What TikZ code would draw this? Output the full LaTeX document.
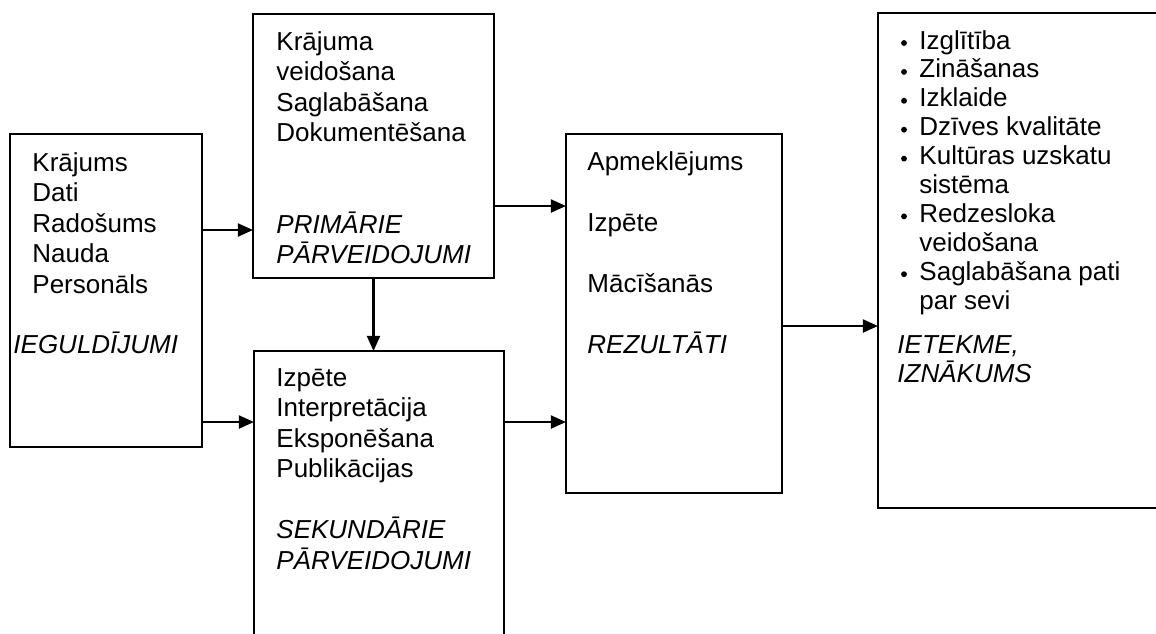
\documentclass[tikz,border=0pt]{standalone}
\usepackage{fontspec}
\setmainfont{Liberation Sans}
\usetikzlibrary{arrows.meta}
\newcommand{\pxu}{0.4615pt}

\begin{document}
\begin{tikzpicture}[x=0.4615pt, y=-0.4615pt,
    box/.style={draw, line width=0.7pt, inner sep=0pt, outer sep=0pt},
    txt/.style={anchor=base west, inner sep=0pt, font=\fontsize{12}{14}\selectfont},
    title/.style={txt, font=\fontsize{12}{14}\selectfont\itshape},
    dot/.style={circle, fill, inner sep=0pt, minimum size=2.7pt},
    arr/.style={line width=1.05pt, -{Triangle[length=7pt, width=6pt]}}]

    % page size, the last two boxes run over the edge
    \useasboundingbox (0,0) rectangle (1156,633);
    \clip (0,0) rectangle (1156,633);

    % boxes
    \node[box, minimum width=192*\pxu, minimum height=313*\pxu] (ieg) at (106,290.5) {};
    \node[box, minimum width=241*\pxu, minimum height=264*\pxu] (prim) at (373.5,146) {};
    \node[box, minimum width=250*\pxu, minimum height=349*\pxu] (sek) at (379,525.5) {};
    \node[box, minimum width=216*\pxu, minimum height=359*\pxu] (rez) at (674,313.5) {};
    \node[box, minimum width=322*\pxu, minimum height=495*\pxu] (iet) at (1039,260.5) {};

    % ieguldijumi
    \foreach \t [count=\i] in {Krājums, Dati, Radošums, Nauda, Personāls}
        \node[txt] (ieg-\i) at (32,{171+30.5*(\i-1)}) {\t};
    \node[title] (ieg-name) at (13,353) {IEGULDĪJUMI};

    % primarie
    \foreach \t [count=\i] in {Krājuma, veidošana, Saglabāšana, Dokumentēšana}
        \node[txt] (prim-\i) at (276,{50+30.5*(\i-1)}) {\t};
    \node[title] (prim-name1) at (276,233.5) {PRIMĀRIE};
    \node[title] (prim-name2) at (276,263.5) {PĀRVEIDOJUMI};

    % sekundarie
    \foreach \t [count=\i] in {Izpēte, Interpretācija, Eksponēšana, Publikācijas}
        \node[txt] (sek-\i) at (276,{386+30.5*(\i-1)}) {\t};
    \node[title] (sek-name1) at (276,538.5) {SEKUNDĀRIE};
    \node[title] (sek-name2) at (276,569) {PĀRVEIDOJUMI};

    % rezultati
    \foreach \t [count=\i] in {Apmeklējums, Izpēte, Mācīšanās}
        \node[txt] (rez-\i) at (587,{170+61*(\i-1)}) {\t};
    \node[title] (rez-name) at (587,353) {REZULTĀTI};

    % ietekme
    \foreach \r/\t in {1/Izglītība, 2/Zināšanas, 3/Izklaide, 4/Dzīves kvalitāte,
                       5/Kultūras uzskatu, 6/sistēma, 7/Redzesloka, 8/veidošana,
                       9/Saglabāšana pati, 10/par sevi}
        \node[txt] (iet-\r) at (919,{49+28.9*(\r-1)}) {\t};
    \foreach \r in {1,2,3,4,5,7,9}
        \node[dot] (blt-\r) at (904,{43+28.9*(\r-1)}) {};
    \node[title] (iet-name1) at (897,353) {IETEKME,};
    \node[title] (iet-name2) at (897,382) {IZNĀKUMS};

    % arrows
    \draw[arr] (ieg.east |- 0,230) -- (prim.west |- 0,230);
    \draw[arr] (ieg.east |- 0,422) -- (sek.west |- 0,422);
    \draw[arr] (prim.south) -- (sek.north -| prim.south);
    \draw[arr] (prim.east |- 0,206) -- (rez.west |- 0,206);
    \draw[arr] (sek.east |- 0,422) -- (rez.west |- 0,422);
    \draw[arr] (rez.east |- 0,326) -- (iet.west |- 0,326);
\end{tikzpicture}
\end{document}
